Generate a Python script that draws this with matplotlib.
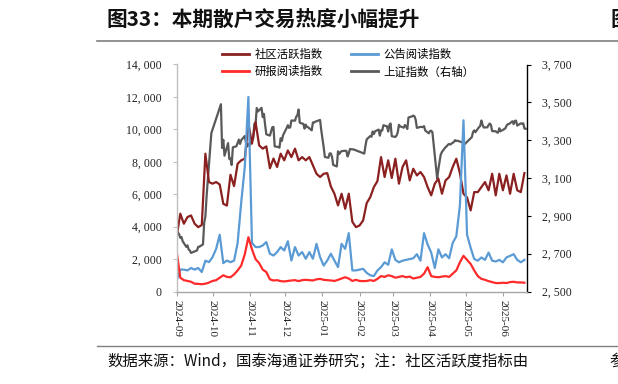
import numpy as np
import pandas as pd
import matplotlib
matplotlib.use('Agg')
import matplotlib.pyplot as plt
import matplotlib.dates as mdates
from matplotlib.lines import Line2D

plt.rcParams['font.family'] = ['Noto Sans CJK SC', 'DejaVu Sans']

# ---------------- data ----------------
grid_start = '2024-09-01'   # three-day sampling grid for the three activity indices
grid_step_days = 3

community = [3400, 4800, 4180, 4590, 4690, 4180, 3970, 4100, 8500, 6750,
             6650, 6750, 6600, 5410, 5300, 7200, 6500, 7880, 8090, 8190,
             10350, 9120, 10450, 9010, 8810, 8950, 7600, 8200, 7680, 8500,
             8090, 8700, 8290, 8810, 8090, 8290, 8090, 8290, 7780, 7260,
             7060, 7260, 7300, 6480, 6030, 5310, 6030, 5100, 6030, 4300,
             3970, 4070, 4380, 5450, 5820, 6440, 6810, 8290, 7060, 8090,
             7000, 8190, 6650, 7680, 8090, 6850, 7570, 7160, 7370, 7060,
             6440, 5930, 6650, 6960, 6030, 6850, 7060, 7680, 8190, 7300,
             6030, 5800, 5000, 6130, 6130, 6440, 6750, 6240, 7260, 5930,
             7260, 6240, 7160, 6030, 7260, 6240, 6130, 7300]

announce = [700, 1350, 1350, 1300, 1450, 1350, 1450, 1200, 1900, 1810,
            2120, 2630, 3500, 1750, 1910, 1810, 1900, 3000, 5500, 7700,
            12000, 3000, 2740, 2740, 2840, 3050, 2330, 2220, 2430, 2740,
            2530, 3100, 1910, 2740, 2220, 2430, 2020, 2430, 2020, 2940,
            2120, 1600, 1910, 2330, 1910, 1500, 2940, 2630, 3600, 1300,
            1300, 1350, 1400, 1150, 1000, 950, 1300, 1500, 1800, 1650,
            2600, 1950, 1800, 1900, 1950, 2000, 2050, 2300, 1900, 3600,
            2900, 2400, 1450, 2600, 2100, 2300, 2050, 3000, 3400, 5300,
            10560, 3500, 2700, 2000, 1900, 2100, 1950, 2400, 1900, 1850,
            1950, 1800, 2100, 2200, 2300, 1950, 1800, 1950]

research = [2450, 850, 700, 650, 600, 480, 470, 450, 480, 550,
            650, 700, 850, 1000, 900, 880, 1050, 1300, 1600, 2300,
            3350, 2600, 2000, 1750, 1350, 1200, 750, 680, 700, 640,
            620, 650, 680, 700, 640, 700, 720, 700, 680, 750,
            780, 720, 700, 680, 650, 720, 800, 880, 800, 650,
            720, 650, 640, 650, 700, 650, 780, 950, 900, 1000,
            950, 850, 900, 950, 880, 920, 800, 850, 900, 1100,
            1500, 950, 900, 880, 920, 950, 900, 1100, 1300, 1800,
            2200, 1950, 1700, 1300, 950, 780, 720, 640, 580, 520,
            520, 540, 520, 580, 600, 560, 560, 540]

sse_dates = [
    '2024-09-02', '2024-09-03', '2024-09-04', '2024-09-05', '2024-09-06', '2024-09-09', '2024-09-10',
    '2024-09-11', '2024-09-12', '2024-09-13', '2024-09-18', '2024-09-19', '2024-09-20', '2024-09-23',
    '2024-09-24', '2024-09-25', '2024-09-26', '2024-09-27', '2024-09-30', '2024-10-08', '2024-10-09',
    '2024-10-10', '2024-10-11', '2024-10-14', '2024-10-15', '2024-10-16', '2024-10-17', '2024-10-18',
    '2024-10-21', '2024-10-22', '2024-10-23', '2024-10-24', '2024-10-25', '2024-10-28', '2024-10-29',
    '2024-10-30', '2024-10-31', '2024-11-01', '2024-11-04', '2024-11-05', '2024-11-06', '2024-11-07',
    '2024-11-08', '2024-11-11', '2024-11-12', '2024-11-13', '2024-11-14', '2024-11-15', '2024-11-18',
    '2024-11-19', '2024-11-20', '2024-11-21', '2024-11-22', '2024-11-25', '2024-11-26', '2024-11-27',
    '2024-11-28', '2024-11-29', '2024-12-02', '2024-12-03', '2024-12-04', '2024-12-05', '2024-12-06',
    '2024-12-09', '2024-12-10', '2024-12-11', '2024-12-12', '2024-12-13', '2024-12-16', '2024-12-17',
    '2024-12-18', '2024-12-19', '2024-12-20', '2024-12-23', '2024-12-24', '2024-12-25', '2024-12-26',
    '2024-12-27', '2024-12-30', '2024-12-31', '2025-01-02', '2025-01-03', '2025-01-06', '2025-01-07',
    '2025-01-08', '2025-01-09', '2025-01-10', '2025-01-13', '2025-01-14', '2025-01-15', '2025-01-16',
    '2025-01-17', '2025-01-20', '2025-01-21', '2025-01-22', '2025-01-23', '2025-01-24', '2025-01-27',
    '2025-02-05', '2025-02-06', '2025-02-07', '2025-02-10', '2025-02-11', '2025-02-12', '2025-02-13',
    '2025-02-14', '2025-02-17', '2025-02-18', '2025-02-19', '2025-02-20', '2025-02-21', '2025-02-24',
    '2025-02-25', '2025-02-26', '2025-02-27', '2025-02-28', '2025-03-03', '2025-03-04', '2025-03-05',
    '2025-03-06', '2025-03-07', '2025-03-10', '2025-03-11', '2025-03-12', '2025-03-13', '2025-03-14',
    '2025-03-17', '2025-03-18', '2025-03-19', '2025-03-20', '2025-03-21', '2025-03-24', '2025-03-25',
    '2025-03-26', '2025-03-27', '2025-03-28', '2025-03-31', '2025-04-01', '2025-04-02', '2025-04-03',
    '2025-04-07', '2025-04-08', '2025-04-09', '2025-04-10', '2025-04-11', '2025-04-14', '2025-04-15',
    '2025-04-16', '2025-04-17', '2025-04-18', '2025-04-21', '2025-04-22', '2025-04-23', '2025-04-24',
    '2025-04-25', '2025-04-28', '2025-04-29', '2025-04-30', '2025-05-06', '2025-05-07', '2025-05-08',
    '2025-05-09', '2025-05-12', '2025-05-13', '2025-05-14', '2025-05-15', '2025-05-16', '2025-05-19',
    '2025-05-20', '2025-05-21', '2025-05-22', '2025-05-23', '2025-05-26', '2025-05-27', '2025-05-28',
    '2025-05-29', '2025-05-30', '2025-06-03', '2025-06-04', '2025-06-05', '2025-06-06', '2025-06-09',
    '2025-06-10', '2025-06-11', '2025-06-12', '2025-06-13', '2025-06-16', '2025-06-17', '2025-06-18',
    '2025-06-19', '2025-06-20']

sse_close = [
    2811, 2803, 2784, 2788, 2766, 2736, 2744,
    2722, 2717, 2704, 2717, 2736, 2737, 2749,
    2863, 2896, 3001, 3088, 3337, 3490, 3259,
    3302, 3218, 3284, 3201, 3203, 3169, 3262,
    3268, 3286, 3303, 3280, 3300, 3322, 3286,
    3266, 3280, 3272, 3310, 3387, 3384, 3470,
    3452, 3471, 3422, 3439, 3380, 3331, 3324,
    3346, 3368, 3370, 3267, 3264, 3260, 3310,
    3296, 3326, 3364, 3379, 3365, 3368, 3404,
    3403, 3423, 3432, 3462, 3392, 3386, 3361,
    3382, 3370, 3368, 3352, 3394, 3393, 3398,
    3400, 3407, 3352, 3263, 3211, 3207, 3230,
    3230, 3211, 3169, 3161, 3241, 3227, 3236,
    3242, 3244, 3243, 3214, 3230, 3253, 3251,
    3229, 3271, 3304, 3322, 3318, 3346, 3332,
    3347, 3356, 3324, 3352, 3351, 3379, 3373,
    3346, 3380, 3388, 3321, 3317, 3324, 3342,
    3381, 3373, 3366, 3380, 3372, 3359, 3420,
    3426, 3430, 3426, 3408, 3365, 3370, 3370,
    3369, 3374, 3351, 3336, 3348, 3350, 3342,
    3097, 3146, 3187, 3224, 3238, 3263, 3268,
    3276, 3280, 3277, 3291, 3300, 3296, 3297,
    3295, 3288, 3287, 3279, 3316, 3343, 3352,
    3342, 3369, 3375, 3404, 3381, 3367, 3368,
    3380, 3388, 3380, 3348, 3347, 3341, 3340,
    3363, 3347, 3362, 3376, 3384, 3385, 3400,
    3385, 3402, 3403, 3377, 3389, 3387, 3389,
    3362, 3360]

month_ticks = ['2024-09', '2024-10', '2024-11', '2024-12', '2025-01',
               '2025-02', '2025-03', '2025-04', '2025-05', '2025-06']
left_ticks = [0, 2000, 4000, 6000, 8000, 10000, 12000, 14000]
right_ticks = [2500, 2700, 2900, 3100, 3300, 3500, 3700]

labels = ['社区活跃指数', '公告阅读指数', '研报阅读指数', '上证指数（右轴）']
colors = ['#8B2020', '#5B9BD5', '#FF2A2A', '#595959']

assert len(community) == len(announce) == len(research)
assert len(sse_dates) == len(sse_close)

grid = pd.date_range(grid_start, periods=len(community), freq=f'{grid_step_days}D')
sse_x = pd.to_datetime(sse_dates)

# ---------------- figure ----------------
W, H = 618, 384
fig = plt.figure(figsize=(W / 100, H / 100), dpi=100)

x0, x1 = 176.7, 526.7
y_top, y_bot = 64.5, 291.5
ax1 = fig.add_axes([x0 / W, 1 - y_bot / H, (x1 - x0) / W, (y_bot - y_top) / H])
ax2 = ax1.twinx()
ax1.set_zorder(ax2.get_zorder() + 1)
ax1.patch.set_visible(False)

lw = 1.6
ax2.plot(sse_x, sse_close, color=colors[3], lw=lw, solid_joinstyle='round')
ax1.plot(grid, community, color=colors[0], lw=lw, solid_joinstyle='round')
ax1.plot(grid, announce, color=colors[1], lw=lw, solid_joinstyle='round')
ax1.plot(grid, research, color=colors[2], lw=lw, solid_joinstyle='round')

xmin = pd.Timestamp('2024-09-01')
xmax = pd.Timestamp('2025-06-20 22:00')
ax1.set_xlim(xmin, xmax)
ax1.set_ylim(0, 14000)
ax2.set_ylim(2500, 3700)

num_font = dict(family='Liberation Serif', size=8.5)
ax1.set_yticks(left_ticks)
ax1.set_yticklabels([f'{v:,}'.replace(',', ', ') for v in left_ticks], fontdict=num_font, color='#222222')
ax2.set_yticks(right_ticks)
ax2.set_yticklabels([f'{v:,}'.replace(',', ', ') for v in right_ticks], fontdict=num_font, color='#222222')

tick_pos = pd.to_datetime([m + '-01' for m in month_ticks])
ax1.set_xticks(tick_pos)
ax1.set_xticklabels(month_ticks, rotation=-90, fontdict=dict(family='Liberation Serif', size=8), color='#222222')

for ax in (ax1, ax2):
    for s in ax.spines.values():
        s.set_visible(False)
ax1.spines['left'].set_visible(True)
ax1.spines['left'].set_color('#BFBFBF')
ax1.spines['left'].set_linewidth(1.0)
ax1.spines['bottom'].set_visible(True)
ax1.spines['bottom'].set_color('#A6A6A6')
ax1.spines['bottom'].set_linewidth(1.0)
ax2.spines['right'].set_visible(True)
ax2.spines['right'].set_color('#000000')
ax2.spines['right'].set_linewidth(1.0)

ax1.tick_params(axis='y', length=3, color='#BFBFBF', pad=8)
ax1.tick_params(axis='x', length=3, color='#A6A6A6', pad=3)
ax2.tick_params(axis='y', length=3, color='#000000', pad=8)

handles = [Line2D([], [], color=colors[0], lw=2),
           Line2D([], [], color=colors[2], lw=2),
           Line2D([], [], color=colors[1], lw=2),
           Line2D([], [], color=colors[3], lw=2)]
leg_labels = [labels[0], labels[2], labels[1], labels[3]]
fig.legend(handles, leg_labels, loc='upper left', bbox_to_anchor=(222 / W, 1 - 49 / H),
           ncol=2, frameon=False, prop=dict(family=['Noto Sans CJK SC'], size=8.2),
           handlelength=2.4, handletextpad=0.5, columnspacing=2.4, labelspacing=0.55,
           borderpad=0, borderaxespad=0)

# title, rules and footnote
fig.text(107 / W, 1 - 20 / H, '图33：本期散户交易热度小幅提升', fontsize=14.9, fontweight='bold',
         va='center', ha='left', color='#111111')
fig.text(611 / W, 1 - 20 / H, '图', fontsize=14.9, fontweight='bold', va='center', ha='left', color='#111111')
fig.add_artist(Line2D([97 / W, 1.0], [1 - 41 / H, 1 - 41 / H], color='#7F7F7F', lw=1.2))
fig.add_artist(Line2D([97 / W, 1.0], [1 - 346 / H, 1 - 346 / H], color='#7F7F7F', lw=1.0))
fig.text(107 / W, 1 - 361 / H, '数据来源：Wind，国泰海通证券研究；注：社区活跃度指标由', fontsize=11.1,
         va='center', ha='left', color='#111111')
fig.text(609 / W, 1 - 361 / H, '参', fontsize=11.1, va='center', ha='left', color='#111111')

fig.savefig('out.png', dpi=100)
